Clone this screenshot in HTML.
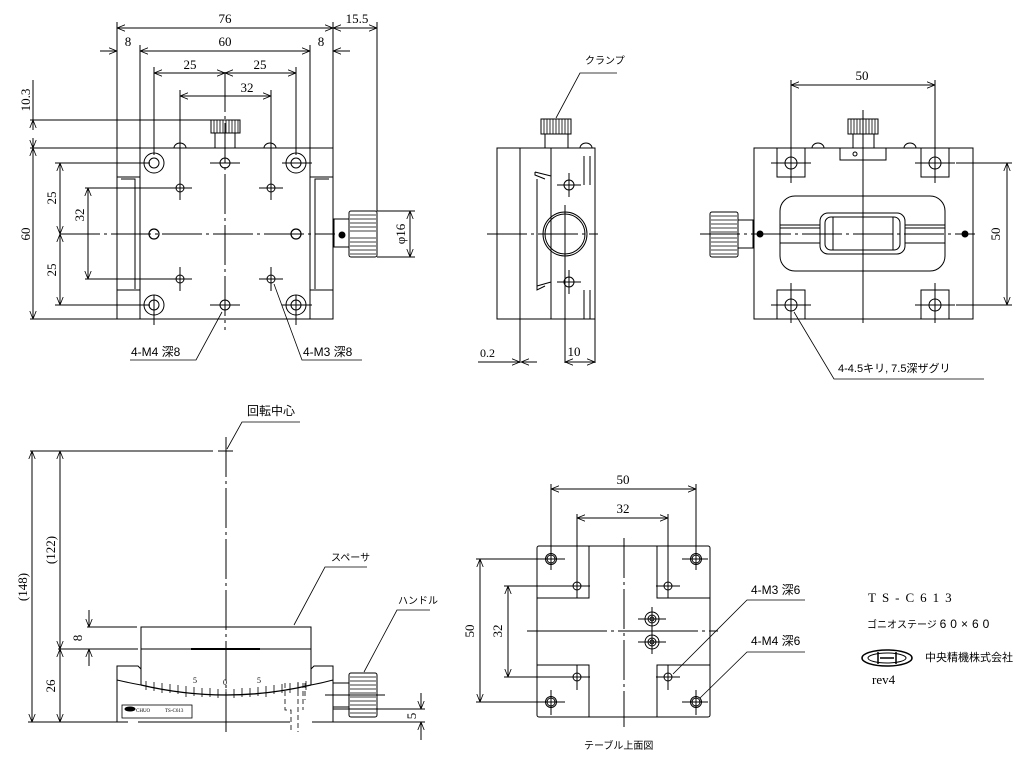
<!DOCTYPE html>
<html><head><meta charset="utf-8"><style>
html,body{margin:0;padding:0;background:#fff;}
svg{display:block;}
text{font-family:"Liberation Serif","Noto Sans CJK JP",serif;font-size:13px;fill:#000;}
.j{font-family:"Liberation Sans","Noto Sans CJK JP",sans-serif;font-size:11px;}
</style></head><body>
<svg width="1024" height="772" viewBox="0 0 1024 772" xmlns="http://www.w3.org/2000/svg">
<defs>
<marker id="a" viewBox="0 0 10 10" refX="10" refY="5" markerWidth="8" markerHeight="8" orient="auto-start-reverse" markerUnits="userSpaceOnUse"><path d="M0,1 L10,5 L0,9" fill="none" stroke="#000" stroke-width="1"/></marker>
</defs>
<g stroke="#000" stroke-width="1" fill="none">
<!-- ===== TOP-LEFT VIEW ===== -->
<rect x="117" y="148" width="216" height="171"/>
<line x1="140" y1="148" x2="140" y2="319"/><line x1="310" y1="148" x2="310" y2="319"/>
<path d="M117,177 H140 M117,290 H140 M310,177 H333 M310,290 H333"/>
<path d="M121,179H135V289 M329,179H315V289"/>
<rect x="211" y="120" width="29" height="13"/>
<path d="M214,120 V133 M217,120V133 M220,120V133 M223,120V133 M226,120V133 M229,120V133 M232,120V133 M235,120V133 M238,120V133" stroke-width="0.8"/>
<rect x="215" y="133" width="20" height="15"/>
<path d="M174,148 a6,5 0 0 1 12,0 M264,148 a6,5 0 0 1 12,0"/>
<g>
<circle cx="154" cy="163" r="10"/><circle cx="154" cy="163" r="5"/>
<circle cx="296" cy="163" r="10"/><circle cx="296" cy="163" r="5"/>
<circle cx="154" cy="305" r="10"/><circle cx="154" cy="305" r="5"/>
<circle cx="296" cy="305" r="10"/><circle cx="296" cy="305" r="5"/>
<circle cx="225" cy="163" r="5"/><circle cx="225" cy="305" r="5"/>
<circle cx="154" cy="234" r="5" stroke-width="1.2"/><circle cx="296" cy="234" r="5" stroke-width="1.2"/>
<circle cx="180" cy="188" r="4"/><circle cx="271" cy="188" r="4"/>
<circle cx="180" cy="279" r="4"/><circle cx="271" cy="279" r="4"/>
</g>
<path d="M168,188H192 M259,188H283 M168,279H192 M259,279H283 M180,176V200 M271,176V200 M180,267V291 M271,267V291 M282,163H312 M282,305H312 M210,163H240 M210,305H240 M154,295V325 M296,295V325"/>
<line x1="225" y1="72" x2="225" y2="330" stroke-dasharray="40,4,3,4"/>
<line x1="60" y1="234" x2="335" y2="234" stroke-dasharray="40,4,3,4"/>
<rect x="334" y="219" width="15" height="28"/>
<rect x="349" y="211" width="28" height="46" rx="2"/>
<path d="M350,215H376 M350,219H376 M350,223H376 M350,227H376 M350,231H376 M350,238H376 M350,242H376 M350,246H376 M350,250H376 M350,254H376" stroke-width="0.8"/>
<circle cx="342" cy="235" r="3" fill="#000"/>
<path d="M117,22V148 M333,22V148 M377,22V211 M140,45V148 M310,45V148 M154,67V155 M296,67V155 M180,90V182 M271,90V182"/>
<line x1="117" y1="28" x2="333" y2="28" marker-start="url(#a)" marker-end="url(#a)"/>
<line x1="333" y1="28" x2="377" y2="28" marker-start="url(#a)" marker-end="url(#a)"/>
<line x1="100" y1="51" x2="117" y2="51" marker-end="url(#a)"/>
<line x1="140" y1="51" x2="310" y2="51" marker-start="url(#a)" marker-end="url(#a)"/>
<line x1="350" y1="51" x2="333" y2="51" marker-end="url(#a)"/>
<line x1="154" y1="73" x2="225" y2="73" marker-start="url(#a)" marker-end="url(#a)"/>
<line x1="225" y1="73" x2="296" y2="73" marker-start="url(#a)" marker-end="url(#a)"/>
<line x1="180" y1="96" x2="271" y2="96" marker-start="url(#a)" marker-end="url(#a)"/>
<path d="M30,120H215 M30,148H117 M30,319H117 M55,163H150 M55,305H150 M85,188H175 M85,279H175 M377,211H415 M377,257H415"/>
<line x1="33" y1="80" x2="33" y2="120"/>
<line x1="33" y1="130" x2="33" y2="120" marker-end="url(#a)"/>
<line x1="33" y1="138" x2="33" y2="148" marker-end="url(#a)"/>
<line x1="33" y1="148" x2="33" y2="319" marker-start="url(#a)" marker-end="url(#a)"/>
<line x1="60" y1="163" x2="60" y2="234" marker-start="url(#a)" marker-end="url(#a)"/>
<line x1="60" y1="234" x2="60" y2="305" marker-start="url(#a)" marker-end="url(#a)"/>
<line x1="88" y1="188" x2="88" y2="279" marker-start="url(#a)" marker-end="url(#a)"/>
<line x1="410" y1="211" x2="410" y2="257" marker-start="url(#a)" marker-end="url(#a)"/>
<path d="M130,360H196 L222,312 M362,360H302 L274,284" stroke-width="0.8"/>
<!-- ===== SIDE VIEW ===== -->
<rect x="497" y="148" width="98" height="171"/>
<line x1="520" y1="148" x2="520" y2="363"/>
<path d="M551,148V319 M535,172L551,176 M535,172V175 L545,179 M537,179V286 M537,286L551,282 M537,286V290L545,286"/>
<path d="M584,156V185 M584,290V319 M590,156V185 M590,290V319"/>
<rect x="541" y="119" width="30" height="15"/>
<path d="M544,119V134 M547,119V134 M550,119V134 M553,119V134 M556,119V134 M559,119V134 M562,119V134 M565,119V134 M568,119V134" stroke-width="0.8"/>
<rect x="545" y="134" width="23" height="14"/>
<path d="M580,148 a6,5 0 0 1 12,0"/>
<circle cx="565" cy="234" r="22"/><circle cx="565" cy="234" r="20"/>
<circle cx="569" cy="185" r="5"/><circle cx="569" cy="282" r="5"/>
<path d="M557,185H581 M557,282H581 M569,173V197 M569,270V294"/>
<line x1="487" y1="234" x2="598" y2="234" stroke-dasharray="40,4,3,4"/>
<line x1="565" y1="205" x2="565" y2="363"/>
<line x1="595" y1="319" x2="595" y2="363"/>
<line x1="478" y1="362" x2="520" y2="362" marker-end="url(#a)"/>
<line x1="537" y1="362" x2="521" y2="362" marker-end="url(#a)"/>
<line x1="565" y1="362" x2="595" y2="362" marker-start="url(#a)" marker-end="url(#a)"/>
<path d="M617,73H580 L556,118" stroke-width="0.8"/>
<!-- ===== RIGHT VIEW ===== -->
<rect x="754" y="148" width="219" height="171"/>
<rect x="777" y="148" width="28" height="29"/><rect x="921" y="148" width="28" height="29"/>
<rect x="777" y="290" width="28" height="29"/><rect x="921" y="290" width="28" height="29"/>
<circle cx="791" cy="163" r="6"/><circle cx="935" cy="163" r="6"/><circle cx="791" cy="305" r="6"/><circle cx="935" cy="305" r="6"/>
<path d="M771,163H811 M915,163H955 M771,305H811 M915,305H955 M791,283V323 M935,283V323"/>
<line x1="791" y1="80" x2="791" y2="183"/><line x1="935" y1="80" x2="935" y2="183"/>
<line x1="791" y1="85" x2="935" y2="85" marker-start="url(#a)" marker-end="url(#a)"/>
<rect x="840" y="148" width="46" height="12"/>
<circle cx="855" cy="154" r="2"/>
<rect x="848" y="119" width="30" height="15"/>
<path d="M851,119V134 M854,119V134 M857,119V134 M860,119V134 M863,119V134 M866,119V134 M869,119V134 M872,119V134 M875,119V134" stroke-width="0.8"/>
<rect x="853" y="134" width="21" height="14"/>
<path d="M812,148 a6,5 0 0 1 12,0 M904,148 a6,5 0 0 1 12,0"/>
<line x1="863" y1="110" x2="863" y2="323"/>
<rect x="780" y="196" width="165" height="75" rx="15"/>
<path d="M780,225H820 M780,243H820 M905,225H945 M905,243H945 M780,228H820 M905,228H945"/>
<rect x="820" y="213" width="85" height="41" rx="8"/>
<rect x="825" y="217" width="75" height="33" rx="6"/>
<path d="M833,217V250 M893,217V250"/>
<line x1="700" y1="234" x2="975" y2="234" stroke-dasharray="40,4,3,4"/>
<rect x="738" y="220" width="15" height="28"/>
<rect x="710" y="212" width="28" height="45" rx="2"/>
<path d="M711,216H737 M711,220H737 M711,224H737 M711,228H737 M711,232H737 M711,238H737 M711,242H737 M711,246H737 M711,250H737 M711,254H737" stroke-width="0.8"/>
<circle cx="760" cy="234" r="3" fill="#000"/><circle cx="965" cy="234" r="3" fill="#000"/>
<path d="M956,163H1012 M956,305H1012"/>
<line x1="1007" y1="163" x2="1007" y2="305" marker-start="url(#a)" marker-end="url(#a)"/>
<path d="M984,379H834 L794,312" stroke-width="0.8"/>
<!-- ===== BOTTOM-LEFT VIEW ===== -->
<path d="M30,451H213 M218,451H233"/>
<line x1="226" y1="437" x2="226" y2="733" stroke-dasharray="40,4,3,4"/>
<path d="M300,422H242 L227,449" stroke-width="0.8"/>
<line x1="32" y1="451" x2="32" y2="722" marker-start="url(#a)" marker-end="url(#a)"/>
<line x1="60" y1="451" x2="60" y2="649" marker-start="url(#a)" marker-end="url(#a)"/>
<line x1="60" y1="649" x2="60" y2="722" marker-start="url(#a)" marker-end="url(#a)"/>
<path d="M28,722H120 M58,649H138 M87,627H137 M89,610V627 M89,649V666"/>
<line x1="89" y1="617" x2="89" y2="627" marker-end="url(#a)"/>
<line x1="89" y1="659" x2="89" y2="649" marker-end="url(#a)"/>
<rect x="141" y="627" width="170" height="22"/>
<line x1="191" y1="649" x2="260" y2="649" stroke-width="2"/>
<path d="M141,649V685 M311,649V685"/>
<path d="M117,722V666H138L141,669 M333,722V666H314L311,669 M117,680 Q130,683 141,685 M333,680 Q322,683 311,685"/>
<path d="M117,722H128 M138,722H290 M312,722H333"/>
<path d="M141,685 Q226,705 311,685" stroke-width="1.3"/>
<path d="M146,681v9 M154,682v9 M162,683v10 M170,684v9 M178,685v9 M186,686v11 M194,687v9 M202,688v9 M210,688v9 M218,689v9 M226,689v10 M234,689v9 M242,688v9 M250,688v9 M258,687v9 M266,686v11 M274,685v9 M282,684v9 M290,683v10 M298,682v9 M306,681v9" stroke-width="0.8"/>
<path d="M285,683V710H291V732 M298,683V732 M303,683V710 M305,683V700" stroke-dasharray="5,3" stroke-width="0.8"/>
<rect x="122" y="705" width="70" height="13" stroke-width="0.8"/>
<ellipse cx="130" cy="709" rx="5" ry="2" fill="#000"/>
<rect x="333" y="683" width="16" height="24"/>
<rect x="349" y="673" width="28" height="44" rx="2"/>
<path d="M350,677H376 M350,681H376 M350,685H376 M350,689H376 M350,693H376 M350,697H376 M350,701H376 M350,705H376 M350,709H376 M350,713H376" stroke-width="0.8"/>
<path d="M325,695H385 M333,709H425 M333,722H425"/>
<line x1="421" y1="693" x2="421" y2="709" marker-end="url(#a)"/>
<line x1="421" y1="740" x2="421" y2="722" marker-end="url(#a)"/>
<path d="M367,567H325 L294,625 M430,610H397 L364,672" stroke-width="0.8"/>
<!-- ===== TABLE TOP VIEW ===== -->
<rect x="537" y="546" width="173" height="171" rx="2"/>
<path d="M537,598H589V546 M657,546V598H710 M537,665H589V717 M657,717V665H710"/>
<g>
<circle cx="551" cy="559" r="5.5"/><circle cx="551" cy="559" r="4"/>
<circle cx="696" cy="559" r="5.5"/><circle cx="696" cy="559" r="4"/>
<circle cx="551" cy="702" r="5.5"/><circle cx="551" cy="702" r="4"/>
<circle cx="696" cy="702" r="5.5"/><circle cx="696" cy="702" r="4"/>
<circle cx="577" cy="586" r="4"/><circle cx="668" cy="586" r="4"/><circle cx="577" cy="677" r="4"/><circle cx="668" cy="677" r="4"/>
<circle cx="652" cy="619" r="7"/><circle cx="652" cy="619" r="4"/><circle cx="652" cy="619" r="2"/>
<circle cx="652" cy="642" r="7"/><circle cx="652" cy="642" r="4"/><circle cx="652" cy="642" r="2"/>
</g>
<path d="M541,559H565 M682,559H708 M541,702H565 M682,702H708 M565,586H590 M656,586H680 M565,677H590 M656,677H680 M577,665V690 M668,665V690 M551,690V715 M696,690V715 M638,619H666 M638,642H666 M652,607V654"/>
<path d="M551,484V570 M696,484V570 M577,514V598 M668,514V598"/>
<line x1="551" y1="489" x2="696" y2="489" marker-start="url(#a)" marker-end="url(#a)"/>
<line x1="577" y1="518" x2="668" y2="518" marker-start="url(#a)" marker-end="url(#a)"/>
<path d="M476,559H546 M476,702H546 M504,586H570 M504,677H570"/>
<line x1="480" y1="559" x2="480" y2="702" marker-start="url(#a)" marker-end="url(#a)"/>
<line x1="508" y1="586" x2="508" y2="677" marker-start="url(#a)" marker-end="url(#a)"/>
<line x1="624" y1="538" x2="624" y2="727" stroke-dasharray="40,4,3,4"/>
<line x1="527" y1="631" x2="718" y2="631" stroke-dasharray="80,4,3,4"/>
<path d="M805,600H747 L673,674 M805,652H747 L700,698" stroke-width="0.8"/>
<ellipse cx="887" cy="658" rx="25" ry="8" stroke-width="1.5"/>
<ellipse cx="887" cy="658" rx="19" ry="5"/>
<path d="M878,652V664 M896,652V664 M880,658H894" stroke-width="1.5"/>
</g>
<text x="225" y="23" text-anchor="middle">76</text>
<text x="357" y="23" text-anchor="middle">15.5</text>
<text x="128" y="46" text-anchor="middle">8</text>
<text x="225" y="46" text-anchor="middle">60</text>
<text x="321" y="46" text-anchor="middle">8</text>
<text x="190" y="69" text-anchor="middle">25</text>
<text x="260" y="69" text-anchor="middle">25</text>
<text x="247" y="92" text-anchor="middle">32</text>
<text transform="translate(30,100) rotate(-90)" text-anchor="middle">10.3</text>
<text transform="translate(30,234) rotate(-90)" text-anchor="middle">60</text>
<text transform="translate(56,198) rotate(-90)" text-anchor="middle">25</text>
<text transform="translate(56,270) rotate(-90)" text-anchor="middle">25</text>
<text transform="translate(84,215) rotate(-90)" text-anchor="middle">32</text>
<text transform="translate(405,234) rotate(-90)" text-anchor="middle">φ16</text>
<text x="131" y="356" class="j" style="font-size:12px">4-M4 深8</text>
<text x="303" y="356" class="j" style="font-size:12px">4-M3 深8</text>
<text x="585" y="64" class="j" style="font-size:10px">クランプ</text>
<text x="480" y="357" style="font-size:12px">0.2</text>
<text x="574" y="356" text-anchor="middle">10</text>
<text x="862" y="80" text-anchor="middle">50</text>
<text transform="translate(1000,234) rotate(-90)" text-anchor="middle">50</text>
<text x="838" y="372" class="j">4-4.5キリ, 7.5深ザグリ</text>
<text x="247" y="415" class="j" style="font-size:12px">回転中心</text>
<text transform="translate(27,587) rotate(-90)" text-anchor="middle">(148)</text>
<text transform="translate(55,550) rotate(-90)" text-anchor="middle">(122)</text>
<text transform="translate(55,686) rotate(-90)" text-anchor="middle">26</text>
<text transform="translate(82,638) rotate(-90)" text-anchor="middle">8</text>
<text transform="translate(416,716) rotate(-90)" text-anchor="middle">5</text>
<text x="331" y="561" class="j" style="font-size:10px">スペーサ</text>
<text x="398" y="604" class="j" style="font-size:10px">ハンドル</text>
<text x="193" y="683" style="font-size:8px">5</text><text x="223" y="685" style="font-size:8px">0</text><text x="257" y="683" style="font-size:8px">5</text>
<text x="136" y="712" style="font-size:5px">CHUO</text><text x="165" y="712" style="font-size:5px">TS-C613</text>
<text x="623" y="484" text-anchor="middle">50</text>
<text x="623" y="513" text-anchor="middle">32</text>
<text transform="translate(474,631) rotate(-90)" text-anchor="middle">50</text>
<text transform="translate(502,631) rotate(-90)" text-anchor="middle">32</text>
<text x="751" y="594" class="j" style="font-size:12px">4-M3 深6</text>
<text x="751" y="645" class="j" style="font-size:12px">4-M4 深6</text>
<text x="584" y="749" class="j" style="font-size:10px">テーブル上面図</text>
<text x="868" y="602" style="letter-spacing:6px">TS-C613</text>
<text x="867" y="628" class="j" style="font-size:10px">ゴニオステージ  <tspan style="letter-spacing:4px;font-size:12px">60×60</tspan></text>
<text x="925" y="661" class="j" style="font-size:11px">中央精機株式会社</text>
<text x="872" y="684">rev4</text>
</svg>
</body></html>
